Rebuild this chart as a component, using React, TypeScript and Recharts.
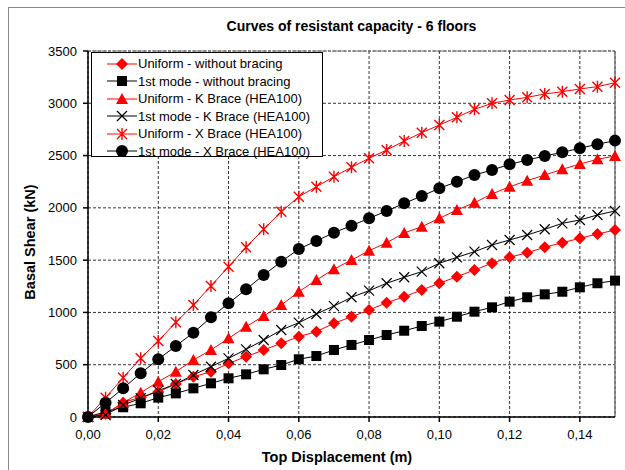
import {
  LineChart,
  Line,
  XAxis,
  YAxis,
  CartesianGrid,
  ReferenceLine,
} from 'recharts';

const displacement = [
  0, 0.005, 0.01, 0.015, 0.02, 0.025, 0.03, 0.035, 0.04, 0.045, 0.05, 0.055, 0.06, 0.065, 0.07, 0.075,
  0.08, 0.085, 0.09, 0.095, 0.1, 0.105, 0.11, 0.115, 0.12, 0.125, 0.13, 0.135, 0.14, 0.145, 0.15,
];

const uniformNoBrace = [
  0, 30, 137, 190, 240, 316, 385, 433, 513, 577, 641, 705, 768, 816, 896, 959, 1023, 1093, 1150, 1215,
  1279, 1342, 1406, 1470, 1527, 1571, 1623, 1667, 1709, 1750, 1788,
];
const modeNoBrace = [
  0, 51, 93, 131, 185, 226, 274, 322, 370, 408, 456, 497, 552, 583, 641, 689, 736, 784, 825, 870, 912,
  959, 1007, 1049, 1103, 1145, 1173, 1198, 1240, 1279, 1304,
];
const uniformK = [
  0, 30, 137, 232, 338, 433, 545, 641, 752, 864, 966, 1071, 1198, 1310, 1414, 1501, 1590, 1667, 1760,
  1820, 1900, 1980, 2049, 2133, 2202, 2260, 2314, 2369, 2419, 2464, 2496,
];
const modeK = [
  0, 19, 115, 179, 252, 316, 402, 481, 561, 647, 736, 832, 902, 985, 1061, 1145, 1208, 1279, 1336, 1390,
  1470, 1527, 1581, 1645, 1693, 1740, 1795, 1852, 1884, 1932, 1970,
];
const uniformX = [
  0, 185, 376, 561, 727, 905, 1071, 1253, 1437, 1623, 1796, 1963, 2107, 2202, 2298, 2388, 2474, 2553,
  2639, 2719, 2792, 2866, 2942, 3000, 3031, 3057, 3089, 3111, 3137, 3159, 3197,
];
const modeX = [
  0, 137, 274, 418, 552, 679, 806, 953, 1087, 1221, 1358, 1485, 1607, 1683, 1763, 1830, 1900, 1970,
  2043, 2113, 2187, 2250, 2314, 2362, 2416, 2457, 2496, 2531, 2570, 2608, 2643,
];

const xTicks = [0, 0.02, 0.04, 0.06, 0.08, 0.1, 0.12, 0.14];
const yTicks = [0, 500, 1000, 1500, 2000, 2500, 3000, 3500];

const RED = '#ff0000';
const BLACK = '#000000';

const series = [
  { key: 'uNo', name: 'Uniform - without bracing', color: RED, marker: 'diamond', values: uniformNoBrace },
  { key: 'mNo', name: '1st mode - without bracing', color: BLACK, marker: 'square', values: modeNoBrace },
  { key: 'uK', name: 'Uniform - K Brace (HEA100)', color: RED, marker: 'triangle', values: uniformK },
  { key: 'mK', name: '1st mode - K Brace (HEA100)', color: BLACK, marker: 'cross', values: modeK },
  { key: 'uX', name: 'Uniform - X Brace (HEA100)', color: RED, marker: 'star', values: uniformX },
  { key: 'mX', name: '1st mode - X Brace (HEA100)', color: BLACK, marker: 'circle', values: modeX },
];

const data = displacement.map((d, i) => {
  const row: Record<string, number> = { d };
  series.forEach((s) => {
    row[s.key] = s.values[i];
  });
  return row;
});

const FONT = '"Liberation Sans", Arial, sans-serif';

function Marker({ kind, color, cx, cy }: { kind: string; color: string; cx: number; cy: number }) {
  switch (kind) {
    case 'diamond':
      return <path d={`M${cx},${cy - 6} L${cx + 6},${cy} L${cx},${cy + 6} L${cx - 6},${cy} Z`} fill={color} />;
    case 'square':
      return <rect x={cx - 5} y={cy - 5} width={10} height={10} fill={color} />;
    case 'triangle':
      return <path d={`M${cx},${cy - 6} L${cx + 6},${cy + 5} L${cx - 6},${cy + 5} Z`} fill={color} />;
    case 'cross':
      return (
        <path
          d={`M${cx - 5},${cy - 5} L${cx + 5},${cy + 5} M${cx - 5},${cy + 5} L${cx + 5},${cy - 5}`}
          stroke={color}
          strokeWidth={1.2}
        />
      );
    case 'star':
      return (
        <path
          d={`M${cx - 5},${cy - 5} L${cx + 5},${cy + 5} M${cx - 5},${cy + 5} L${cx + 5},${cy - 5} M${cx},${cy - 6} L${cx},${cy + 6}`}
          stroke={color}
          strokeWidth={1.4}
        />
      );
    default:
      return <circle cx={cx} cy={cy} r={6} fill={color} />;
  }
}

const makeDot = (kind: string, color: string) => (props: any) => {
  const { cx, cy, index } = props;
  return <Marker key={`${kind}-${index}`} kind={kind} color={color} cx={cx} cy={cy} />;
};

function LegendBox() {
  return (
    <div
      style={{
        position: 'absolute',
        left: 91,
        top: 52,
        width: 232,
        height: 105,
        border: '1px solid #000',
        background: '#fff',
        fontFamily: FONT,
        fontSize: 13,
        color: '#000',
        paddingTop: 2,
        boxSizing: 'border-box',
      }}
    >
      {series.map((s) => (
        <div key={s.key} style={{ display: 'flex', alignItems: 'center', height: 17.5 }}>
          <svg width={46} height={16} style={{ flex: 'none' }}>
            <line x1={15} x2={45} y1={8} y2={8} stroke={s.color} strokeWidth={1} />
            <Marker kind={s.marker} color={s.color} cx={30} cy={8} />
          </svg>
          <span style={{ whiteSpace: 'nowrap' }}>{s.name}</span>
        </div>
      ))}
    </div>
  );
}

const fmtX = (v: number) => v.toFixed(2).replace('.', ',');

export default function App() {
  return (
    <div style={{ position: 'absolute', left: 0, top: 0, width: 625, height: 470, overflow: 'hidden', background: '#fff' }}>
      <div
        style={{
          position: 'absolute',
          left: 8,
          top: 7,
          width: 640,
          height: 480,
          border: '1.5px solid #888',
        }}
      />
      <div
        style={{
          position: 'absolute',
          left: 88,
          width: 527,
          top: 18,
          textAlign: 'center',
          fontFamily: FONT,
          fontWeight: 'bold',
          fontSize: 14,
        }}
      >
        Curves of resistant capacity - 6 floors
      </div>
      <div
        style={{
          position: 'absolute',
          left: 237,
          width: 200,
          top: 449,
          textAlign: 'center',
          fontFamily: FONT,
          fontWeight: 'bold',
          fontSize: 14.5,
        }}
      >
        Top Displacement (m)
      </div>
      <div
        style={{
          position: 'absolute',
          left: 30,
          top: 242,
          transform: 'translate(-50%, -50%) rotate(-90deg)',
          whiteSpace: 'nowrap',
          fontFamily: FONT,
          fontWeight: 'bold',
          fontSize: 14.5,
        }}
      >
        Basal Shear (kN)
      </div>
      <LineChart
        width={625}
        height={470}
        data={data}
        margin={{ top: 51, right: 10, bottom: 33, left: 28 }}
        style={{ position: 'absolute', left: 0, top: 0 }}
      >
        <CartesianGrid stroke="#000" strokeDasharray="3 2" strokeWidth={0.8} />
        <XAxis
          dataKey="d"
          type="number"
          domain={[0, 0.15]}
          ticks={xTicks}
          tickFormatter={fmtX}
          height={20}
          tickSize={5}
          tickMargin={8}
          stroke="#000"
          strokeWidth={1.5}
          tick={{ fill: '#000', fontSize: 13, fontFamily: FONT }}
        />
        <YAxis
          type="number"
          domain={[0, 3500]}
          ticks={yTicks}
          width={60}
          tickSize={5}
          tickMargin={6}
          stroke="#000"
          strokeWidth={1.5}
          tick={{ fill: '#000', fontSize: 13, fontFamily: FONT }}
        />
        <ReferenceLine x={0.15} stroke="#777" strokeWidth={1.5} />
        <ReferenceLine y={3500} stroke="#777" strokeWidth={1} strokeDasharray="3 1" />
        {series.map((s) => (
          <Line
            key={s.key}
            dataKey={s.key}
            name={s.name}
            stroke={s.color}
            strokeWidth={1}
            dot={makeDot(s.marker, s.color)}
            activeDot={false}
            isAnimationActive={false}
          />
        ))}
      </LineChart>
      <LegendBox />
    </div>
  );
}
